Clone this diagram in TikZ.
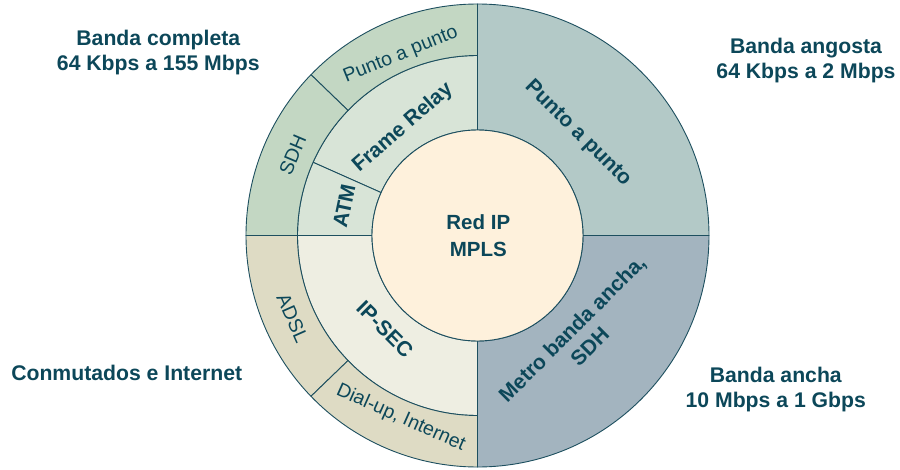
\documentclass[tikz,border=0pt]{standalone}
\usepackage{fontspec}
\setmainfont{Liberation Sans}
\definecolor{txt}{HTML}{0C4759}
\definecolor{edge}{HTML}{1D4F5F}
\definecolor{core}{HTML}{FEF1DC}
\definecolor{urfill}{HTML}{B3C9C7}
\definecolor{lrfill}{HTML}{A3B4BF}
\definecolor{ulout}{HTML}{C3D7C3}
\definecolor{ulmid}{HTML}{D8E4D7}
\definecolor{llout}{HTML}{DEDBC4}
\definecolor{llmid}{HTML}{EEEEE2}
\newcommand{\ringsector}[5]{%
  \filldraw[#5] (#1:#3) arc[start angle=#1,end angle=#2,radius=#3]
    -- (#2:#4) arc[start angle=#2,end angle=#1,radius=#4] -- cycle;}
\begin{document}
\begin{tikzpicture}[x=1pt,y=1pt,
  seg/.style={draw=edge,line width=0.9pt,line join=round},
  boldlbl/.style={text=txt,inner sep=0pt,align=center,font=\bfseries\fontsize{21.2}{25}\selectfont},
  ringlbl/.style={text=txt,inner sep=0pt,align=center,font=\bfseries\fontsize{21}{25}\selectfont},
  thinlbl/.style={text=txt,inner sep=0pt,align=center,font=\fontsize{19.5}{23}\selectfont},
  corelbl/.style={text=txt,inner sep=0pt,align=center,font=\bfseries\fontsize{20.5}{26.5}\selectfont}]
\useasboundingbox (-477.5,-233.5) rectangle (422.5,235.5);
% right half
\ringsector{0}{90}{105.5pt}{231.5pt}{seg,fill=urfill}
\ringsector{270}{360}{105.5pt}{231.5pt}{seg,fill=lrfill}
% upper left
\ringsector{90}{156}{105.5pt}{180pt}{seg,fill=ulmid}
\ringsector{156}{180}{105.5pt}{180pt}{seg,fill=ulmid}
\ringsector{90}{136}{180pt}{231.5pt}{seg,fill=ulout}
\ringsector{136}{180}{180pt}{231.5pt}{seg,fill=ulout}
% lower left
\ringsector{180}{270}{105.5pt}{180pt}{seg,fill=llmid}
\ringsector{180}{224}{180pt}{231.5pt}{seg,fill=llout}
\ringsector{224}{270}{180pt}{231.5pt}{seg,fill=llout}
% core
\filldraw[seg,fill=core] (0,0) circle[radius=105.5pt];
\node[corelbl] (core) at (0.8,0) {Red IP\\MPLS};
% ring labels
\node[ringlbl,rotate=-45] (ppR) at (45.5:143pt) {Punto a punto};
\node[ringlbl,rotate=45] (metro) at (-44.6:145pt) {Metro banda ancha,\\SDH};
\node[ringlbl,rotate=41] (fr) at (124.7:131pt) {Frame Relay};
\node[ringlbl,rotate=78] (atm) at (167.5:136.5pt) {ATM};
\node[ringlbl,rotate=-45] (ipsec) at (225.3:131.5pt) {IP-SEC};
\node[thinlbl,rotate=22] (ppL) at (113:196pt) {Punto a punto};
\node[thinlbl,rotate=67] (sdh) at (156.5:201.5pt) {SDH};
\node[thinlbl,rotate=-66] (adsl) at (204.1:202.5pt) {ADSL};
\node[thinlbl,rotate=-24] (dial) at (247.2:198pt) {Dial-up, Internet};
% outer labels
\node[boldlbl,anchor=north] (bc) at (-319.2,205.5) {Banda completa\\64 Kbps a 155 Mbps};
\node[boldlbl,anchor=north] (ba) at (328.5,197.5) {Banda angosta\\64 Kbps a 2 Mbps};
\node[boldlbl,anchor=north] (ci) at (-350.8,-129.5) {Conmutados e Internet};
\node[boldlbl,anchor=north] (bw) at (298.3,-131) {Banda ancha\\10 Mbps a 1 Gbps};
\end{tikzpicture}
\end{document}
